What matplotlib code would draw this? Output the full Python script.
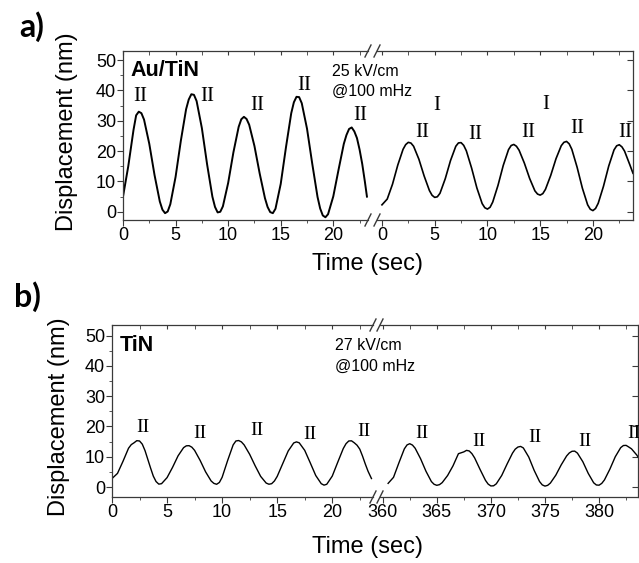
import numpy as np
import matplotlib.pyplot as plt
from matplotlib.lines import Line2D
from matplotlib.ticker import MultipleLocator

plt.rcParams['font.family'] = ['Liberation Sans', 'DejaVu Sans']

# ---- data ----
# a) Au/TiN, first segment (0-23 s)
a1_t = [0, 0.5, 1, 1.25, 1.5, 1.75, 2, 2.5, 3, 3.5, 3.75, 4, 4.25, 4.5, 5, 5.5, 6, 6.25,
        6.5, 6.75, 7, 7.5, 8, 8.5, 8.75, 9, 9.25, 9.5, 10, 10.5, 11, 11.25, 11.5, 11.75,
        12, 12.5, 13, 13.5, 13.75, 14, 14.25, 14.5, 15, 15.5, 16, 16.25, 16.5, 16.75, 17,
        17.5, 18, 18.5, 18.75, 19, 19.25, 19.5, 20, 20.5, 21, 21.25, 21.5, 21.75, 22,
        22.25, 22.5, 22.75, 23, 23.2]
a1_v = [5, 15, 27, 31.8, 33, 32.5, 30.4, 22.4, 12.1, 3.4, 0.7, -0.45, 0.1, 2.5, 11.5, 23.4,
        33.8, 37.0, 38.75, 38.55, 36.5, 27.6, 15.6, 5.0, 1.6, -0.2, 0.0, 1.8, 9.5, 19.6,
        28.0, 30.5, 31.3, 30.6, 28.7, 21.7, 12.6, 4.5, 1.6, -0.1, -0.45, 1.0, 9.2, 21.3,
        32.5, 36.1, 37.9, 37.8, 35.8, 27.4, 15.8, 4.9, 1.1, -1.2, -1.8, -0.8, 5.1, 13.9,
        22.4, 25.3, 27.3, 27.8, 26.5, 24.3, 20.5, 15.8, 10.0, 5.0]
# a) Au/TiN, after the break (0-24 s)
a2_t = [0, 0.5, 1, 1.5, 2, 2.25, 2.5, 2.75, 3, 3.5, 4, 4.5, 4.75, 5, 5.25, 5.5, 6, 6.5, 7,
        7.25, 7.5, 7.75, 8, 8.5, 9, 9.5, 9.75, 10, 10.25, 10.5, 11, 11.5, 12, 12.25, 12.5,
        12.75, 13, 13.5, 14, 14.5, 14.75, 15, 15.25, 15.5, 16, 16.5, 17, 17.25, 17.5,
        17.75, 18, 18.5, 19, 19.5, 19.75, 20, 20.25, 20.5, 21, 21.5, 22, 22.25, 22.5,
        22.75, 23, 23.5, 23.8]
a2_v = [2.3, 4.2, 9.1, 15.4, 20.6, 22.15, 22.9, 22.65, 21.6, 17.35, 11.8, 7.0, 5.45, 4.75,
        4.95, 6.1, 10.9, 16.9, 21.6, 22.7, 22.8, 21.9, 20.1, 14.4, 7.85, 2.7, 1.35, 0.9,
        1.5, 3.2, 8.7, 15.3, 20.5, 21.85, 22.2, 21.6, 20.3, 16.05, 11.0, 6.9, 5.85, 5.5,
        6.0, 7.4, 12.0, 17.5, 21.8, 22.9, 23.2, 22.4, 20.6, 14.7, 7.8, 2.3, 0.85, 0.4, 1.1,
        2.8, 8.4, 15.1, 20.4, 21.75, 22.1, 21.4, 20.0, 15.5, 12.7]
# b) TiN, first segment (0-23.6 s)
b1_t = [0, 0.5, 1, 1.5, 1.75, 2, 2.25, 2.5, 2.75, 3, 3.5, 3.75, 4, 4.25, 4.5, 5, 5.5, 6,
        6.5, 6.75, 7, 7.25, 7.5, 8, 8.5, 9, 9.25, 9.5, 9.75, 10, 10.5, 11, 11.25, 11.5,
        11.75, 12, 12.5, 13, 13.5, 14, 14.25, 14.5, 14.75, 15, 15.5, 16, 16.5, 16.75, 17,
        17.5, 18, 18.5, 19, 19.25, 19.5, 20, 20.5, 21, 21.25, 21.5, 21.75, 22, 22.25,
        22.5, 22.75, 23, 23.25, 23.56]
b1_v = [2.8, 4.5, 8.5, 12.8, 14.0, 14.6, 15.3, 15.2, 14.15, 12.0, 6.3, 3.6, 1.8, 0.95, 1.1,
        3.1, 6.5, 10.3, 13.0, 13.6, 13.65, 13.15, 12.1, 8.8, 5.0, 2.0, 1.2, 0.9, 1.5, 3.2,
        8.75, 13.9, 15.2, 15.35, 14.9, 13.9, 10.8, 7.0, 3.5, 1.3, 0.92, 1.1, 2.0, 3.5, 7.7,
        11.9, 14.55, 14.9, 14.6, 12.1, 8.0, 3.8, 1.1, 0.62, 0.9, 3.6, 8.2, 12.7, 14.3,
        15.2, 15.25, 14.6, 13.8, 12.5, 10.2, 7.6, 5.2, 2.8]
# b) TiN, after the break (360-384 s)
b2_t = [360.5, 361, 361.5, 362, 362.25, 362.5, 362.75, 363, 363.5, 364, 364.5, 364.75,
        365, 365.25, 365.5, 366, 366.5, 367, 367.5, 367.75, 368, 368.25, 368.5, 369,
        369.5, 369.75, 370, 370.25, 370.5, 371, 371.5, 372, 372.25, 372.5, 372.75, 373,
        373.5, 374, 374.5, 374.75, 375, 375.25, 375.5, 376, 376.5, 377, 377.25, 377.5,
        377.75, 378, 378.5, 379, 379.5, 379.75, 380, 380.25, 380.5, 381, 381.5, 382,
        382.25, 382.5, 382.75, 383, 383.5, 383.6]
b2_v = [1.2, 3.2, 8.0, 12.6, 13.9, 14.3, 13.85, 12.8, 9.35, 5.2, 1.8, 0.9, 0.56, 0.78,
        1.45, 3.8, 7.0, 11.0, 11.6, 12.1, 11.9, 11.0, 9.6, 5.8, 2.2, 0.95, 0.35, 0.4, 1.05,
        3.8, 7.6, 11.2, 12.5, 13.2, 13.4, 12.9, 9.9, 5.5, 1.8, 0.7, 0.3, 0.55, 1.3, 3.9,
        7.3, 10.25, 11.25, 11.8, 11.85, 11.2, 8.35, 4.5, 1.4, 0.67, 0.6, 1.2, 2.35, 5.9,
        10.0, 13.0, 13.7, 13.75, 13.2, 12.6, 10.5, 9.9]

# peak labels (roman numerals)
a1_lab = [("II", 1.6, 37.9), ("II", 8.0, 37.9), ("II", 12.8, 34.9), ("II", 17.2, 41.5), ("II", 22.6, 31.6)]
a2_lab = [("I", 5.2, 34.9), ("I", 15.55, 35.5), ("II", 3.8, 26.0), ("II", 8.8, 25.6),
          ("II", 13.9, 26.0), ("II", 18.5, 27.6), ("II", 23.1, 26.3)]
b1_lab = [("II", 2.8, 19.6), ("II", 8.0, 17.6), ("II", 13.15, 18.5), ("II", 18.0, 17.4), ("II", 22.9, 18.2)]
b2_lab = [("II", 363.6, 17.6), ("II", 368.9, 15.1), ("II", 374.1, 16.3), ("II", 378.7, 14.9), ("II", 383.2, 17.8)]

W, H = 639, 563
SPC = '#3a3a3a'
fig = plt.figure(figsize=(W / 100, H / 100), dpi=100)


def rect(x0, y0, x1, y1):
    return [x0 / W, 1 - y1 / H, (x1 - x0) / W, (y1 - y0) / H]


def setup(ax, xlim, ylim, side):
    ax.set_xlim(*xlim)
    ax.set_ylim(*ylim)
    for s in ax.spines.values():
        s.set_color(SPC)
        s.set_linewidth(0.9)
    ax.xaxis.set_major_locator(MultipleLocator(5))
    ax.xaxis.set_minor_locator(MultipleLocator(2.5))
    ax.tick_params(axis='x', which='both', direction='out', bottom=True, top=False,
                   labelsize=13, pad=1, color=SPC)
    ax.tick_params(axis='x', which='major', length=4)
    ax.tick_params(axis='x', which='minor', length=2.5)
    top = ax.secondary_xaxis('top')
    top.xaxis.set_major_locator(MultipleLocator(5))
    top.xaxis.set_minor_locator(MultipleLocator(2.5))
    top.tick_params(which='both', direction='in', labeltop=False, color=SPC, length=3)
    top.spines['top'].set_visible(False)
    ax.yaxis.set_major_locator(MultipleLocator(10))
    if side == 'left':
        ax.spines['right'].set_visible(False)
        ax.yaxis.set_minor_locator(MultipleLocator(5))
        ax.tick_params(axis='y', which='both', direction='out', left=True, right=False,
                       labelsize=13, pad=1, color=SPC)
        ax.tick_params(axis='y', which='major', length=4)
        ax.tick_params(axis='y', which='minor', length=2.5)
    else:
        ax.spines['left'].set_visible(False)
        ax.tick_params(axis='y', which='both', direction='in', left=False, right=True,
                       labelleft=False, labelright=False, length=4, color=SPC)


def slash(x, y):
    fig.add_artist(Line2D([(x - 3) / W, (x + 3) / W], [1 - (y + 6) / H, 1 - (y - 6) / H],
                          color=SPC, lw=1.0))


def labels(ax, labs, size):
    for txt, x, y in labs:
        ax.text(x, y, txt, ha='center', va='center', fontsize=size,
                family='Liberation Serif', clip_on=False)


# panel a
ax1 = fig.add_axes(rect(123, 51, 368, 220))
ax2 = fig.add_axes(rect(377, 51, 633, 220))
setup(ax1, (0, 23.3), (-2.7, 53), 'left')
setup(ax2, (-0.47, 23.8), (-2.7, 53), 'right')
ax1.plot(a1_t, a1_v, color='black', lw=1.4, solid_joinstyle='round')
ax2.plot(a2_t, a2_v, color='black', lw=1.2, solid_joinstyle='round')
labels(ax1, a1_lab, 15)
labels(ax2, a2_lab, 15)
for x in (368, 377):
    slash(x, 51)
    slash(x, 220)

# panel b
ax3 = fig.add_axes(rect(112, 325, 373, 497))
ax4 = fig.add_axes(rect(380, 325, 638, 497))
setup(ax3, (0, 23.7), (-3.3, 53.5), 'left')
setup(ax4, (359.75, 383.6), (-3.3, 53.5), 'right')
ax3.plot(b1_t, b1_v, color='black', lw=1.0, solid_joinstyle='round')
ax4.plot(b2_t, b2_v, color='black', lw=1.0, solid_joinstyle='round')
labels(ax3, b1_lab, 14)
labels(ax4, b2_lab, 14)
for x in (373, 380):
    slash(x, 325)
    slash(x, 497)


# texts
def ftext(x, y, s, **kw):
    fig.text(x / W, 1 - y / H, s, **kw)


ftext(32, 27, 'a)', fontsize=23, fontweight='bold', family='Lato', ha='center', va='center')
ftext(27, 297, 'b)', fontsize=23, fontweight='bold', family='Lato', ha='center', va='center')
ftext(67.5, 132, 'Displacement (nm)', fontsize=17, rotation=90, ha='center', va='center')
ftext(58.5, 417, 'Displacement (nm)', fontsize=17, rotation=90, ha='center', va='center')
ftext(367.5, 264, 'Time (sec)', fontsize=17, ha='center', va='center')
ftext(368, 547, 'Time (sec)', fontsize=17, ha='center', va='center')
ftext(130, 70.5, 'Au/TiN', fontsize=15.5, fontweight='bold', ha='left', va='center')
ftext(120, 345.5, 'TiN', fontsize=15.5, fontweight='bold', ha='left', va='center')
ftext(332, 71, '25 kV/cm', fontsize=11.5, ha='left', va='center')
ftext(332, 91, '@100 mHz', fontsize=11.5, ha='left', va='center')
ftext(335, 346, '27 kV/cm', fontsize=11.5, ha='left', va='center')
ftext(335, 366, '@100 mHz', fontsize=11.5, ha='left', va='center')

fig.savefig('out.png', dpi=100)
